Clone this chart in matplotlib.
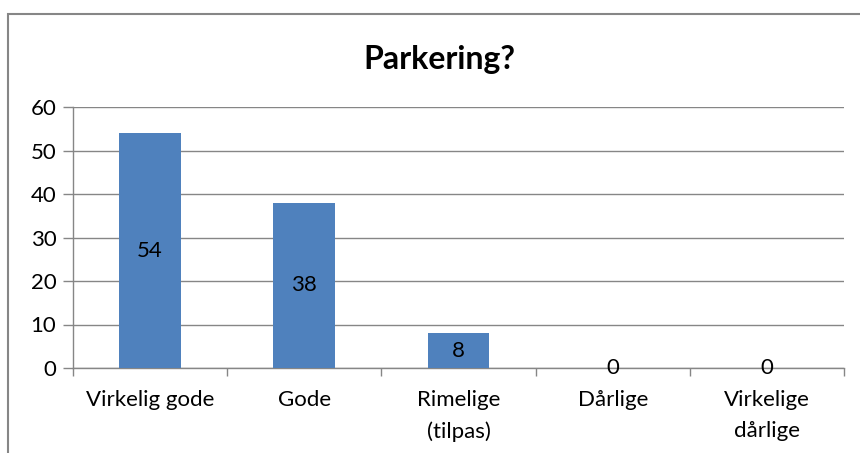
import matplotlib
matplotlib.use("Agg")
import matplotlib.pyplot as plt
from matplotlib.patches import Rectangle
import numpy as np

plt.rcParams['font.family'] = ['Lato', 'DejaVu Sans']

# data
categories = ["Virkelig gode", "Gode", "Rimelige\n(tilpas)", "Dårlige", "Virkelige\ndårlige"]
values = [54, 38, 8, 0, 0]
yticks = [0, 10, 20, 30, 40, 50, 60]

bar_color = "#4f81bd"
line_color = "#868686"
fs = 16

fig = plt.figure(figsize=(8.6, 4.53), dpi=100)
ax = fig.add_axes([73 / 860, 85 / 453, 771 / 860, 261 / 453])

x = np.arange(len(categories))
ax.bar(x, values, width=0.4, color=bar_color, zorder=3)

for xi, v in zip(x, values):
    ax.text(xi, v / 2, str(v), ha="center", va="center", fontsize=fs, color="black", zorder=4)

ax.set_xlim(-0.5, len(categories) - 0.5)
ax.set_ylim(0, 60)
ax.set_yticks(yticks)
ax.set_yticklabels([str(t) for t in yticks], fontsize=fs)
ax.yaxis.grid(True, color=line_color, linewidth=1)
ax.set_axisbelow(True)

# ticks at category boundaries, labels at centres
ax.set_xticks(np.arange(-0.5, len(categories), 1.0))
ax.set_xticklabels([])
ax.set_xticks(x, minor=True)
ax.set_xticklabels(categories, minor=True, fontsize=fs, linespacing=1.7)
ax.tick_params(axis="x", which="minor", length=0, pad=16)
ax.tick_params(axis="x", which="major", length=6, color=line_color, width=1)
ax.tick_params(axis="y", length=7, color=line_color, width=1, pad=5)

for s in ["top", "right"]:
    ax.spines[s].set_visible(False)
for s in ["left", "bottom"]:
    ax.spines[s].set_color(line_color)
    ax.spines[s].set_linewidth(1)

fig.text(439 / 860, 1 - 60 / 453, "Parkering?", ha="center", va="center",
         fontsize=23, fontweight="bold")

# outer chart border (cut off at right and bottom)
fig.patches.append(Rectangle((7.5 / 860, -0.1), 1.2, 1 - 13.5 / 453 + 0.1,
                             transform=fig.transFigure, fill=False,
                             edgecolor=line_color, linewidth=1.5))

fig.savefig("out.png", dpi=100)
